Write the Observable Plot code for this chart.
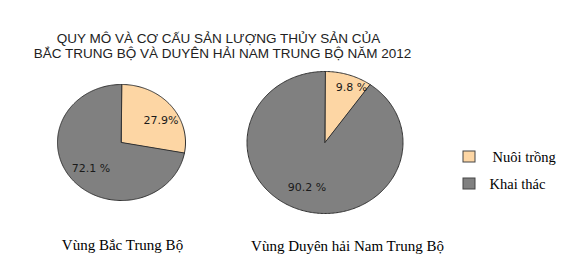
<!DOCTYPE html>
<html>
<head>
<meta charset="utf-8">
<script src="https://cdn.jsdelivr.net/npm/d3@7"></script>
<script src="https://cdn.jsdelivr.net/npm/@observablehq/plot@0.6"></script>
<style>
  html, body { margin: 0; padding: 0; background: #fff; }
  #chart svg { display: block; }
</style>
</head>
<body>
<div id="chart"></div>
<script>
// ---- Data ----
const titleLines = [
  "QUY MÔ VÀ CƠ CẤU SẢN LƯỢNG THỦY SẢN CỦA",
  "BẮC TRUNG BỘ VÀ DUYÊN HẢI NAM TRUNG BỘ NĂM 2012"
];
const regions = ["Vùng Bắc Trung Bộ", "Vùng Duyên hải Nam Trung Bộ"];
const categories = ["Nuôi trồng", "Khai thác"];
const aquaculture = [27.9, 9.8];   // Nuôi trồng (%)
const capture = [72.1, 90.2];      // Khai thác (%)
const percentLabels = [["27.9%", "72.1 %"], ["9.8 %", "90.2 %"]];

// ---- Layout / style ----
const W = 568, H = 268;
const colors = ["#fdd6a4", "#808080"];
const pies = [
  {cx: 121, cy: 142, rx: 64, ry: 58},
  {cx: 324.5, cy: 142, rx: 78, ry: 71}
];
const labelFrac = 0.7;
const labelNudge = [[[5, 4], [4, 0]], [[10, -8], [-1.5, -2]]];
const titleX = [218, 222], titleY = [38, 53];
const regionLabelPos = [{x: 122, y: 245}, {x: 347, y: 246}];
const legend = {x: 463, y: [151, 178], w: 12, h: 11, textX: [492, 489]};

// ---- Build geometry from data ----
const slicePoints = [];
const sliceLabels = [];
regions.forEach((region, i) => {
  const values = [aquaculture[i], capture[i]];
  const arcs = d3.pie().sort(null)(values);
  const p = pies[i];
  arcs.forEach((a, j) => {
    const key = region + "|" + categories[j];
    slicePoints.push({key, cat: categories[j], x: p.cx, y: p.cy});
    const steps = Math.max(2, Math.ceil((a.endAngle - a.startAngle) / (Math.PI / 180)));
    for (let s = 0; s <= steps; s++) {
      const t = a.startAngle + (a.endAngle - a.startAngle) * s / steps;
      slicePoints.push({key, cat: categories[j], x: p.cx + p.rx * Math.sin(t), y: p.cy - p.ry * Math.cos(t)});
    }
    const mid = (a.startAngle + a.endAngle) / 2;
    sliceLabels.push({
      text: percentLabels[i][j],
      x: p.cx + labelFrac * p.rx * Math.sin(mid) + labelNudge[i][j][0],
      y: p.cy - labelFrac * p.ry * Math.cos(mid) + labelNudge[i][j][1]
    });
  });
});

const titleData = titleLines.map((t, i) => ({text: t, x: titleX[i], y: titleY[i]}));
const regionData = regions.map((r, i) => ({text: r, ...regionLabelPos[i]}));
const legendData = categories.map((c, i) => ({
  cat: c, x1: legend.x, x2: legend.x + legend.w, y1: legend.y[i], y2: legend.y[i] + legend.h,
  tx: legend.textX[i], ty: legend.y[i] + legend.h / 2
}));

const chart = Plot.plot({
  width: W, height: H,
  margin: 0,
  x: {domain: [0, W], range: [0, W], axis: null},
  y: {domain: [0, H], range: [0, H], axis: null},
  color: {domain: categories, range: colors},
  marks: [
    Plot.line(slicePoints, {x: "x", y: "y", z: "key", fill: "cat", stroke: "#333", strokeWidth: 1, curve: "linear-closed"}),
    Plot.text(sliceLabels, {x: "x", y: "y", text: "text", fontFamily: "DejaVu Sans", fontSize: 11, fill: "#1a1a1a"}),
    Plot.text(titleData, {x: "x", y: "y", text: "text", fontFamily: "Liberation Sans", fontSize: 13.5, fill: "#222"}),
    Plot.text(regionData, {x: "x", y: "y", text: "text", fontFamily: "Liberation Serif", fontSize: 15, fill: "#000"}),
    Plot.rect(legendData, {x1: "x1", x2: "x2", y1: "y1", y2: "y2", fill: "cat", stroke: "#444", strokeWidth: 1}),
    Plot.text(legendData, {x: "tx", y: "ty", text: "cat", textAnchor: "start", fontFamily: "Liberation Serif", fontSize: 14.5, fill: "#000"})
  ]
});
document.getElementById("chart").appendChild(chart);
</script>
</body>
</html>
